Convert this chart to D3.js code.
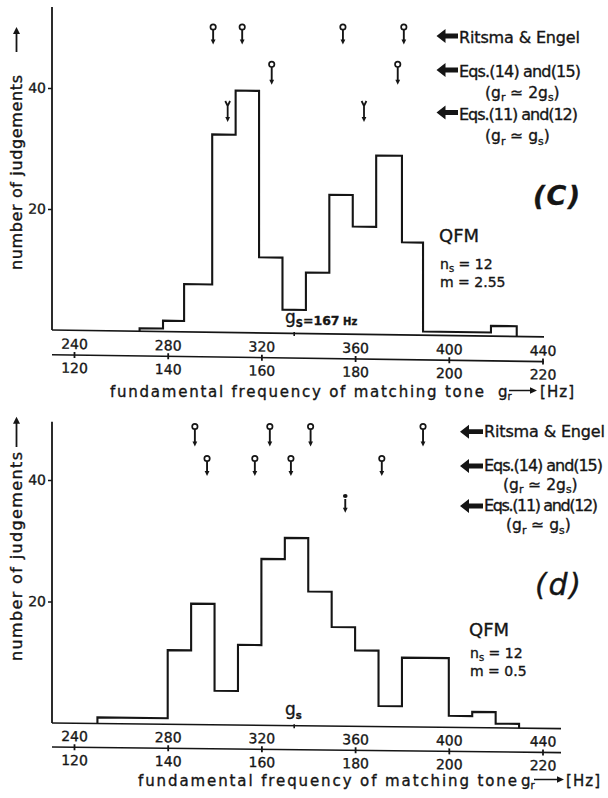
<!DOCTYPE html>
<html>
<head>
<meta charset="utf-8">
<script src="https://cdn.jsdelivr.net/npm/d3@7"></script>
<style>
  html, body { margin: 0; padding: 0; background: #fff; }
  svg { display: block; }
  svg text { stroke: #151515; stroke-width: 0.35px; }
</style>
</head>
<body>
<svg id="fig" width="608" height="798"></svg>
<script>
// Frequency of the matching tone g_r (Hz) and the doubled scale printed above it
const freqTicks = [120, 140, 160, 180, 200, 220];
const doubledTicks = [240, 280, 320, 360, 400, 440];
const countTicks = [20, 40];

// Panel (c), m = 2.55: bin edges (Hz) and number of judgements per bin
const edgesC = [134, 139, 143.5, 149.5, 154.5, 159.5, 164.5, 169.5, 174.5, 179.5, 184.5, 190, 194.5, 209, 214.5];
const countsC = [0.5, 1.8, 7.9, 32.7, 40, 12.5, 3.9, 10.1, 23, 17.8, 29.6, 15.3, 0.6, 1.7];
// predicted pitches (Hz)
const ritsmaC = [149.7, 155.9, 177.4, 190.4];
const eqs1415C = [162.2, 189.1];
const eqs1112C = [152.8, 181.9];

// Panel (d), m = 0.5
const edgesD = [125, 140, 145, 150, 155, 160, 165, 170, 175, 180, 185, 190, 200, 205, 210, 215];
const countsD = [1, 12.2, 19.9, 5.6, 13.2, 27.4, 30.9, 22.1, 16.3, 12.5, 3.4, 11.4, 1.9, 2.6, 0.7];
const ritsmaD = [145.8, 161.8, 170.5, 194.5];
const eqs1415D = [148.4, 158.6, 166.3, 185.7];
const eqs1112D = [177.9];

// signal fundamental g_s (Hz)
const gs = 167;

const ink = '#151515';
const FONT = '"DejaVu Sans", "Noto Sans", sans-serif';
const svg = d3.select('#fig');

const x = d3.scaleLinear().domain([120, 220]).range([74, 542.5]);
const x2 = d3.scaleLinear().domain([240, 440]).range([74, 542.5]);

function headDown(g, cx, tip) {
  g.append('path')
    .attr('d', `M${cx - 2.4},${tip - 5} L${cx + 2.4},${tip - 5} L${cx},${tip} Z`)
    .attr('fill', ink);
}

// lollipop marker: open circle, stem, arrow tip
function lollipop(g, cx, cy, tip) {
  g.append('line').attr('x1', cx).attr('x2', cx).attr('y1', cy + 2.5).attr('y2', tip - 4)
    .attr('stroke', ink).attr('stroke-width', 1.9);
  g.append('circle').attr('cx', cx).attr('cy', cy).attr('r', 2.7)
    .attr('fill', '#fff').attr('stroke', ink).attr('stroke-width', 1.7);
  headDown(g, cx, tip);
}

// forked marker: small "Y" on top of the stem
function fork(g, cx, top, tip) {
  g.append('path')
    .attr('d', `M${cx - 2.4},${top} L${cx},${top + 5} L${cx + 2.4},${top} M${cx},${top + 5} L${cx},${tip - 4}`)
    .attr('fill', 'none').attr('stroke', ink).attr('stroke-width', 1.8);
  headDown(g, cx, tip);
}

// dotted marker: filled head on top of the stem
function dotted(g, cx, top, tip) {
  g.append('ellipse').attr('cx', cx).attr('cy', top + 2).attr('rx', 2.3).attr('ry', 2)
    .attr('fill', ink);
  g.append('line').attr('x1', cx).attr('x2', cx).attr('y1', top + 5).attr('y2', tip - 4)
    .attr('stroke', ink).attr('stroke-width', 1.9);
  headDown(g, cx, tip);
}

// thick left-pointing legend arrow
function legendArrow(g, tipX, cy, endX) {
  const hx = tipX + 9;
  g.append('path')
    .attr('d', `M${tipX},${cy} L${hx},${cy - 7} L${hx},${cy - 2.4} L${endX},${cy - 2.4} L${endX},${cy + 2.4} L${hx},${cy + 2.4} L${hx},${cy + 7} Z`)
    .attr('fill', ink);
}

function txt(g, xx, yy, size, s) {
  return g.append('text').attr('x', xx).attr('y', yy)
    .attr('font-family', FONT).attr('font-size', size).attr('fill', ink).text(s);
}

// "(g_r ≃ 2g_s)" style relation with subscripts
function relation(g, xx, yy, size, factor) {
  const t = g.append('text').attr('x', xx).attr('y', yy)
    .attr('font-family', FONT).attr('font-size', size).attr('fill', ink);
  const sub = size * 0.7;
  t.append('tspan').text('(g');
  t.append('tspan').attr('font-size', sub).attr('dy', 3.5).text('r');
  t.append('tspan').attr('dy', -3.5).text(' \u2243 ' + factor + 'g');
  t.append('tspan').attr('font-size', sub).attr('dy', 3.5).text('s');
  t.append('tspan').attr('dy', -3.5).text(')');
  return t;
}

function drawPanel(p) {
  const root = svg.append('g');
  const y = d3.scaleLinear().domain([0, 40]).range([p.y0, p.y40]);
  const shear = Math.atan(p.slope) * 180 / Math.PI;
  const plot = root.append('g').attr('transform', `translate(52,0) skewY(${shear}) translate(-52,0)`);

  // count axis
  plot.append('line').attr('x1', 52).attr('x2', 52).attr('y1', p.y0).attr('y2', p.axisTop)
    .attr('stroke', ink).attr('stroke-width', 1.8);
  const ya = plot.append('g').attr('transform', 'translate(52,0)')
    .call(d3.axisLeft(y).tickValues(countTicks).tickSize(4).tickPadding(2).tickFormat(d3.format('d')));
  ya.select('.domain').remove();
  ya.attr('font-family', FONT).attr('font-size', 14);
  ya.selectAll('line').attr('stroke', ink).attr('stroke-width', 1.5);
  ya.selectAll('text').attr('fill', ink);

  // zero line with the g_s mark
  plot.append('line').attr('x1', 52).attr('x2', p.end).attr('y1', p.y0).attr('y2', p.y0)
    .attr('stroke', ink).attr('stroke-width', 1.6);
  plot.append('line').attr('x1', x(gs)).attr('x2', x(gs)).attr('y1', p.y0 - 1.5).attr('y2', p.y0 + 2.5)
    .attr('stroke', ink).attr('stroke-width', 1.6);

  // histogram outline
  const pts = [[p.edges[0], 0]];
  p.counts.forEach((c, i) => pts.push([p.edges[i], c]));
  const last = p.edges[p.edges.length - 1];
  pts.push([last, p.counts[p.counts.length - 1]]);
  pts.push([last, 0]);
  const line = d3.line().x(d => x(d[0])).y(d => y(d[1])).curve(d3.curveStepAfter);
  plot.append('path').attr('d', line(pts)).attr('fill', 'none')
    .attr('stroke', ink).attr('stroke-width', 2.1).attr('stroke-linejoin', 'miter');

  // double frequency scale
  const ax = plot.append('g').attr('transform', `translate(0,${p.lowY})`);
  ax.append('line').attr('x1', 52).attr('x2', p.end).attr('y1', 0).attr('y2', 0)
    .attr('stroke', ink).attr('stroke-width', 1.6);
  const lower = ax.append('g')
    .call(d3.axisBottom(x).tickValues(freqTicks).tickSize(3).tickPadding(5).tickSizeOuter(0));
  const upper = ax.append('g')
    .call(d3.axisTop(x2).tickValues(doubledTicks).tickSize(3).tickPadding(3).tickSizeOuter(0));
  [lower, upper].forEach(a => {
    a.select('.domain').remove();
    a.attr('font-family', FONT).attr('font-size', 14);
    a.selectAll('line').attr('stroke', ink).attr('stroke-width', 1.8);
    a.selectAll('text').attr('fill', ink);
  });

  // axis titles
  root.append('text')
    .attr('transform', `translate(21.5,${p.yTitleStart}) rotate(-90)`)
    .attr('font-family', FONT).attr('font-size', 16).attr('fill', ink)
    .attr('textLength', p.yTitleLen).attr('lengthAdjust', 'spacing')
    .text('number of judgements');
  root.append('line').attr('x1', 16.5).attr('x2', 16.5).attr('y1', p.yArrow[0]).attr('y2', p.yArrow[1] + 5)
    .attr('stroke', ink).attr('stroke-width', 1.8);
  root.append('path')
    .attr('d', `M${16.5 - 3.5},${p.yArrow[1] + 7} L${16.5 + 3.5},${p.yArrow[1] + 7} L16.5,${p.yArrow[1]} Z`)
    .attr('fill', ink);

  txt(root, p.xt.x, p.xt.base, 15, 'fundamental frequency of matching tone')
    .attr('textLength', p.xt.len).attr('lengthAdjust', 'spacing');
  const gr = txt(root, p.xt.gx, p.xt.base, 15, 'g');
  gr.append('tspan').attr('font-size', 10).attr('dy', 3).text('r');
  const ay = p.xt.base - 6.5;
  root.append('line').attr('x1', p.xt.a0).attr('x2', p.xt.a1 - 5).attr('y1', ay).attr('y2', ay)
    .attr('stroke', ink).attr('stroke-width', 1.5);
  root.append('path').attr('d', `M${p.xt.a1 - 7},${ay - 3.2} L${p.xt.a1 - 7},${ay + 3.2} L${p.xt.a1},${ay} Z`)
    .attr('fill', ink);
  txt(root, p.xt.hz, p.xt.base, 15, '[Hz]').attr('textLength', 34).attr('lengthAdjust', 'spacing');

  // predicted pitch markers
  const mk = root.append('g');
  p.ritsma.forEach(v => lollipop(mk, x(v), p.rows.r[0], p.rows.r[1]));
  p.eq14.forEach(v => lollipop(mk, x(v), p.rows.e14[0], p.rows.e14[1]));
  p.eq11.forEach(v => p.eq11Mark(mk, x(v), p.rows.e11[0], p.rows.e11[1]));

  // legend
  const L = p.legend;
  legendArrow(root, L.tip, L.cy[0], L.tx - 1);
  legendArrow(root, L.tip, L.cy[1], L.tx - 1);
  legendArrow(root, L.tip, L.cy[2], L.tx - 1);
  txt(root, L.tx, L.base[0], 16, 'Ritsma & Engel').attr('textLength', 121).attr('lengthAdjust', 'spacing');
  txt(root, L.tx, L.base[1], 16, 'Eqs.(14) and(15)').attr('textLength', L.w14).attr('lengthAdjust', 'spacing');
  relation(root, L.sub[0], L.base[2], 15.5, '2');
  txt(root, L.tx, L.base[3], 16, 'Eqs.(11) and(12)').attr('textLength', L.w11).attr('lengthAdjust', 'spacing');
  relation(root, L.sub[1], L.base[4], 15.5, '');

  // panel letter and stimulus parameters
  txt(root, p.letter.x, p.letter.base, p.letter.size, p.letter.s)
    .attr('font-style', 'italic').attr('font-weight', p.letter.w)
    .attr('textLength', p.letter.len).attr('lengthAdjust', 'spacing');
  txt(root, p.info.x, p.info.base[0], 18, 'QFM');
  const ns = txt(root, p.info.x + 1, p.info.base[1], 14, 'n');
  ns.append('tspan').attr('font-size', 10).attr('dy', 3).text('s');
  ns.append('tspan').attr('dy', -3).text(' = 12');
  txt(root, p.info.x + 1, p.info.base[2], 14, p.info.m);

  // g_s label above the zero line
  const gl = txt(root, p.gsLabel.x, p.gsLabel.base, 17, 'g');
  gl.append('tspan').attr('font-size', 10).attr('font-weight', 'bold').attr('dy', 3.5).text(p.gsLabel.sub);
  if (p.gsLabel.tail) {
    gl.append('tspan').attr('font-size', 12.5).attr('font-weight', 'bold').attr('dy', -1.5).text('=167');
    gl.append('tspan').attr('font-size', 10).attr('font-weight', 'bold').text(' Hz');
  }
}

drawPanel({
  edges: edgesC, counts: countsC, ritsma: ritsmaC, eq14: eqs1415C, eq11: eqs1112C, eq11Mark: fork,
  y0: 330, y40: 88, axisTop: 7, slope: 0.014, end: 544, lowY: 354.7,
  yTitleStart: 270, yTitleLen: 195, yArrow: [52, 27],
  xt: { x: 110, base: 397, len: 374, gx: 498, a0: 509, a1: 537, hz: 540 },
  rows: { r: [27, 44.5], e14: [64.3, 84.7], e11: [101, 122] },
  legend: { tip: 436.5, tx: 459, cy: [36, 70, 112.5], base: [42.5, 76.5, 97.5, 119.5, 141],
            sub: [485, 485], w14: 122, w11: 119 },
  letter: { x: 533, base: 205, s: '(C)', w: 'bold', len: 47, size: 27 },
  info: { x: 439, base: [241.7, 269.3, 287.3], m: 'm = 2.55' },
  gsLabel: { x: 285, base: 323, sub: 'S', tail: true }
});

drawPanel({
  edges: edgesD, counts: countsD, ritsma: ritsmaD, eq14: eqs1415D, eq11: eqs1112D, eq11Mark: dotted,
  y0: 723, y40: 480, axisTop: 421.7, slope: 0.011, end: 561, lowY: 747,
  yTitleStart: 661, yTitleLen: 209, yArrow: [447, 416.7],
  xt: { x: 138, base: 786, len: 379, gx: 521, a0: 534, a1: 564, hz: 566 },
  rows: { r: [426.5, 446.5], e14: [458.5, 476], e11: [494, 512.7] },
  legend: { tip: 460, tx: 484, cy: [431.7, 466, 506], base: [436.5, 471, 489.5, 511, 530],
            sub: [503, 506], w14: 119, w11: 114 },
  letter: { x: 535, base: 595, s: '(d)', w: 'normal', len: 46, size: 30 },
  info: { x: 469, base: [635.7, 658, 676.3], m: 'm = 0.5' },
  gsLabel: { x: 285, base: 715, sub: 's', tail: false }
});
</script>
</body>
</html>
